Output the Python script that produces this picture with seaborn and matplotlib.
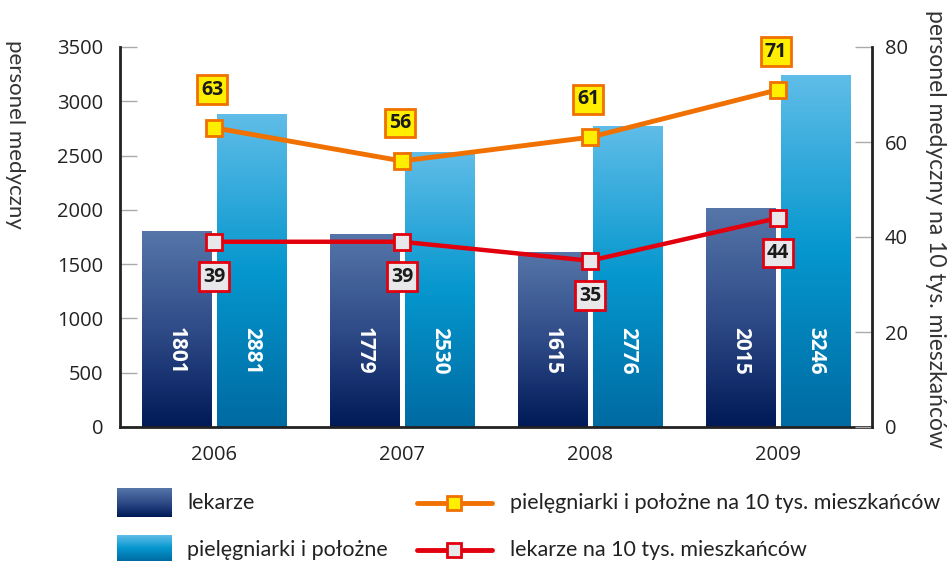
import numpy as np
import pandas as pd
import matplotlib
matplotlib.use("Agg")
import matplotlib.pyplot as plt
import seaborn as sns
from matplotlib.colors import LinearSegmentedColormap
from matplotlib.lines import Line2D

# ---- data ----
years = ["2006", "2007", "2008", "2009"]
lekarze = [1801, 1779, 1615, 2015]
pielegniarki = [2881, 2530, 2776, 3246]
piel_10k = [63, 56, 61, 71]
lek_10k = [39, 39, 35, 44]
series_names = ["lekarze", "pielęgniarki i położne"]
line_names = ["pielęgniarki i położne na 10 tys. mieszkańców", "lekarze na 10 tys. mieszkańców"]
left_ticks = [0, 500, 1000, 1500, 2000, 2500, 3000, 3500]
right_ticks = [0, 20, 40, 60, 80]

sns.set_theme(style="white")
FONT = ["Lato", "DejaVu Sans"]
TICKFONT = ["Open Sans", "DejaVu Sans"]
NARROW = ["Liberation Sans Narrow", "Open Sans", "DejaVu Sans"]
plt.rcParams["font.family"] = FONT

W, H = 947, 561
fig = plt.figure(figsize=(W / 100, H / 100), dpi=100)
ax = fig.add_axes([120 / W, 1 - 427 / H, 752 / W, 380 / H])

df = pd.DataFrame({
    "rok": years * 2,
    "liczba": lekarze + pielegniarki,
    "grupa": [series_names[0]] * 4 + [series_names[1]] * 4,
})

c_lek = ["#5676a9", "#2f4b88", "#001a58"]
c_piel = ["#60bde8", "#0597ce", "#006aa2"]
sns.barplot(data=df, x="rok", y="liczba", hue="grupa", hue_order=series_names,
            palette=[c_lek[1], c_piel[1]], saturation=1, width=0.8, gap=0.08,
            legend=False, ax=ax, zorder=1)

cmaps = [LinearSegmentedColormap.from_list("lek", c_lek[::-1]),
         LinearSegmentedColormap.from_list("piel", c_piel[::-1])]
grad = np.linspace(0, 1, 256).reshape(-1, 1)
patches = list(ax.patches)
for k, p in enumerate(patches):
    cm = cmaps[0] if k < 4 else cmaps[1]
    x0, y0 = p.get_x(), p.get_y()
    w, h = p.get_width(), p.get_height()
    im = ax.imshow(grad, cmap=cm, origin="lower", aspect="auto",
                   extent=[x0, x0 + w, y0, y0 + h], zorder=1.5)
    im.set_clip_path(p)
    p.set_facecolor("none")
    p.set_edgecolor("none")
    ax.text(x0 + w / 2, 700, f"{int(h)}", rotation=270, ha="center", va="center",
            color="white", fontsize=15, fontweight="bold", family=NARROW, zorder=3)

ax.set_xlim(-0.5, 3.5)
ax.set_ylim(0, 3500)
ax.set_yticks(left_ticks)
ax.set_xlabel("")
ax.set_ylabel("")
ax.tick_params(axis="y", direction="in", length=12, width=1, color="#aaaaaa",
               pad=12, labelsize=14.5, labelcolor="#222222")
ax.tick_params(axis="x", length=0, pad=13, labelsize=14.5, labelcolor="#222222")
for lab in ax.get_xticklabels() + ax.get_yticklabels():
    lab.set_family(TICKFONT)
for s in ["left", "bottom"]:
    ax.spines[s].set_color("#222222")
    ax.spines[s].set_linewidth(2)
ax.spines["top"].set_visible(False)
ax.spines["right"].set_visible(False)

ax2 = ax.twinx()
ax2.set_ylim(0, 80)
ax2.set_yticks(right_ticks)
ax2.tick_params(axis="y", direction="in", length=12, width=1, color="#aaaaaa",
                pad=9, labelsize=14.5, labelcolor="#222222")
ax2.spines["right"].set_color("#222222")
ax2.spines["right"].set_linewidth(2)
for s in ["left", "top", "bottom"]:
    ax2.spines[s].set_visible(False)

xpos = np.arange(len(years))
sns.lineplot(x=xpos, y=piel_10k, ax=ax2, color="#f07000", lw=3.5, marker="s",
             markersize=12, markerfacecolor="#ffee00", markeredgecolor="#f07000",
             markeredgewidth=2, zorder=4)
sns.lineplot(x=xpos, y=lek_10k, ax=ax2, color="#e2000f", lw=3.2, marker="s",
             markersize=12, markerfacecolor="#e8e8ea", markeredgecolor="#e2000f",
             markeredgewidth=2, zorder=4)
ax2.set_xlim(-0.5, 3.5)
ax2.set_ylabel("")
for lab in ax2.get_yticklabels():
    lab.set_family(TICKFONT)

for i, v in enumerate(piel_10k):
    ax2.annotate(f"{v}", (i, v), xytext=(-2, 38), textcoords="offset pixels",
                 ha="center", va="center", fontsize=14, fontweight="bold", color="#1a1a1a",
                 family=TICKFONT,
                 bbox=dict(boxstyle="square,pad=0.22", fc="#ffee00", ec="#f07000", lw=2),
                 zorder=5)
for i, v in enumerate(lek_10k):
    ax2.annotate(f"{v}", (i, v), xytext=(0, -35), textcoords="offset pixels",
                 ha="center", va="center", fontsize=14, fontweight="bold", color="#1a1a1a",
                 family=TICKFONT,
                 bbox=dict(boxstyle="square,pad=0.22", fc="#e8e8ea", ec="#e2000f", lw=2),
                 zorder=5)

# axis titles
fig.text(15 / W, 1 - 40 / H, "personel medyczny", rotation=270, ha="center", va="top",
         fontsize=16, color="#333333")
fig.text(935 / W, 1 - 10 / H, "personel medyczny na 10 tys. mieszkańców", rotation=270,
         ha="center", va="top", fontsize=16.5, color="#333333")

# legend (manual)
for k, (yt, yb) in enumerate([(488, 517), (535, 561)]):
    lax = fig.add_axes([117 / W, 1 - yb / H, 55 / W, (yb - yt) / H])
    lax.imshow(grad, cmap=cmaps[k], origin="lower", aspect="auto")
    lax.set_axis_off()
fig.text(187 / W, 1 - 503 / H, series_names[0], ha="left", va="center", fontsize=15.5, color="#222222")
fig.text(187 / W, 1 - 550 / H, series_names[1], ha="left", va="center", fontsize=15.5, color="#222222")

leg_specs = [(503, "#f07000", "#ffee00", line_names[0]), (550, "#e2000f", "#e8e8ea", line_names[1])]
for yy, lc, fc, name in leg_specs:
    yf = 1 - yy / H
    fig.add_artist(Line2D([417 / W, 492 / W], [yf, yf], transform=fig.transFigure,
                          color=lc, lw=3.5, solid_capstyle="round"))
    fig.add_artist(Line2D([454 / W], [yf], transform=fig.transFigure, marker="s",
                          markersize=9.5, markerfacecolor=fc, markeredgecolor=lc,
                          markeredgewidth=2, linestyle="none"))
    fig.text(510 / W, yf, name, ha="left", va="center", fontsize=15.5, color="#222222")

fig.savefig("out.png", dpi=100)
